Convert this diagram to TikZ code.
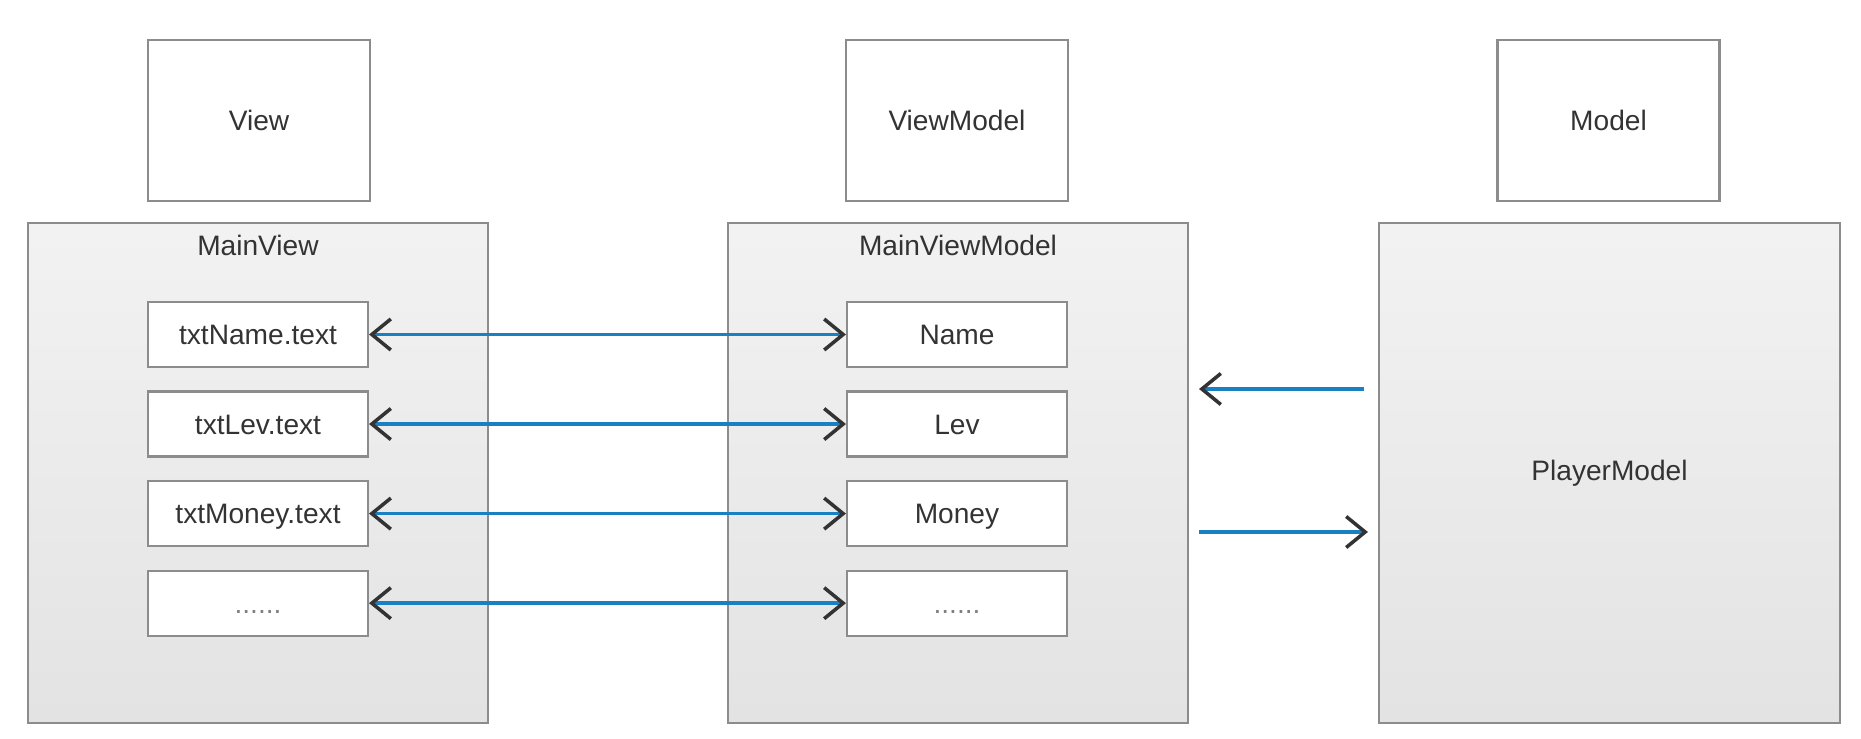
\documentclass[tikz,border=0pt]{standalone}
\usepackage{fontspec}
\setmainfont{Liberation Sans}
\usetikzlibrary{arrows.meta}

\definecolor{edgegray}{HTML}{8C8C8C}
\definecolor{textgray}{HTML}{333333}
\definecolor{linkblue}{HTML}{1A80C4}
\definecolor{tipgray}{HTML}{333333}

\begin{document}
\begin{tikzpicture}[
          font=\fontsize{8}{10}\selectfont, text=textgray,
          layer/.style = {draw=edgegray, line width=0.6pt, fill=white, minimum width=2.22cm, minimum height=1.61cm, align=center},
          frame/.style = {draw=edgegray, line width=0.6pt, top color=black!5, bottom color=black!11, minimum width=4.6cm, minimum height=5cm},
          field/.style = {draw=edgegray, line width=0.6pt, fill=white, minimum width=2.2cm, minimum height=0.65cm, text height=5.8pt, text depth=0pt},
          link/.style = {draw=linkblue, line width=1pt, >={Straight Barb[length=1.9mm, width=3.1mm, line width=1pt, color=tipgray]}}
        ]

        \fill[white] (0,0) rectangle (18.61,7.39);
        \useasboundingbox (0,0) rectangle (18.61,7.39);

        \node[layer] (view) at (2.59,6.185) {View};
        \node[layer] (viewmodel) at (9.57,6.185) {ViewModel};
        \node[layer] (model) at (16.085,6.185) {Model};

        \node[frame] (mainview) at (2.58,2.66) {};
        \node[frame] (mainviewmodel) at (9.58,2.66) {};
        \node[frame, minimum width=4.61cm] (playermodel) at (16.095,2.66) {PlayerModel};

        \node (mainviewtitle) at ([yshift=-0.24cm]mainview.north) {MainView};
        \node (mainviewmodeltitle) at ([yshift=-0.24cm]mainviewmodel.north) {MainViewModel};

        \node[field] (txtname) at (2.58,4.045) {txtName.text};
        \node[field, yshift=-0.56cm] (txtlev) at (txtname.south) {txtLev.text};
        \node[field, yshift=-0.56cm] (txtmoney) at (txtlev.south) {txtMoney.text};
        \node[field, yshift=-0.56cm, text=gray] (txtmore) at (txtmoney.south) {......};

        \node[field] (name) at (9.57,4.045) {Name};
        \node[field, yshift=-0.56cm] (lev) at (name.south) {Lev};
        \node[field, yshift=-0.56cm] (money) at (lev.south) {Money};
        \node[field, yshift=-0.56cm, text=gray] (more) at (money.south) {......};

        \draw[link, <->] (txtname) -- (name);
        \draw[link, <->] (txtlev) -- (lev);
        \draw[link, <->] (txtmoney) -- (money);
        \draw[link, <->] (txtmore) -- (more);

        \draw[link, ->] ([xshift=-0.14cm, yshift=0.84cm]playermodel.west) -- ([xshift=0.1cm, yshift=0.84cm]mainviewmodel.east);
        \draw[link, ->] ([xshift=0.1cm, yshift=-0.59cm]mainviewmodel.east) -- ([xshift=-0.1cm, yshift=-0.59cm]playermodel.west);
      \end{tikzpicture}
\end{document}
